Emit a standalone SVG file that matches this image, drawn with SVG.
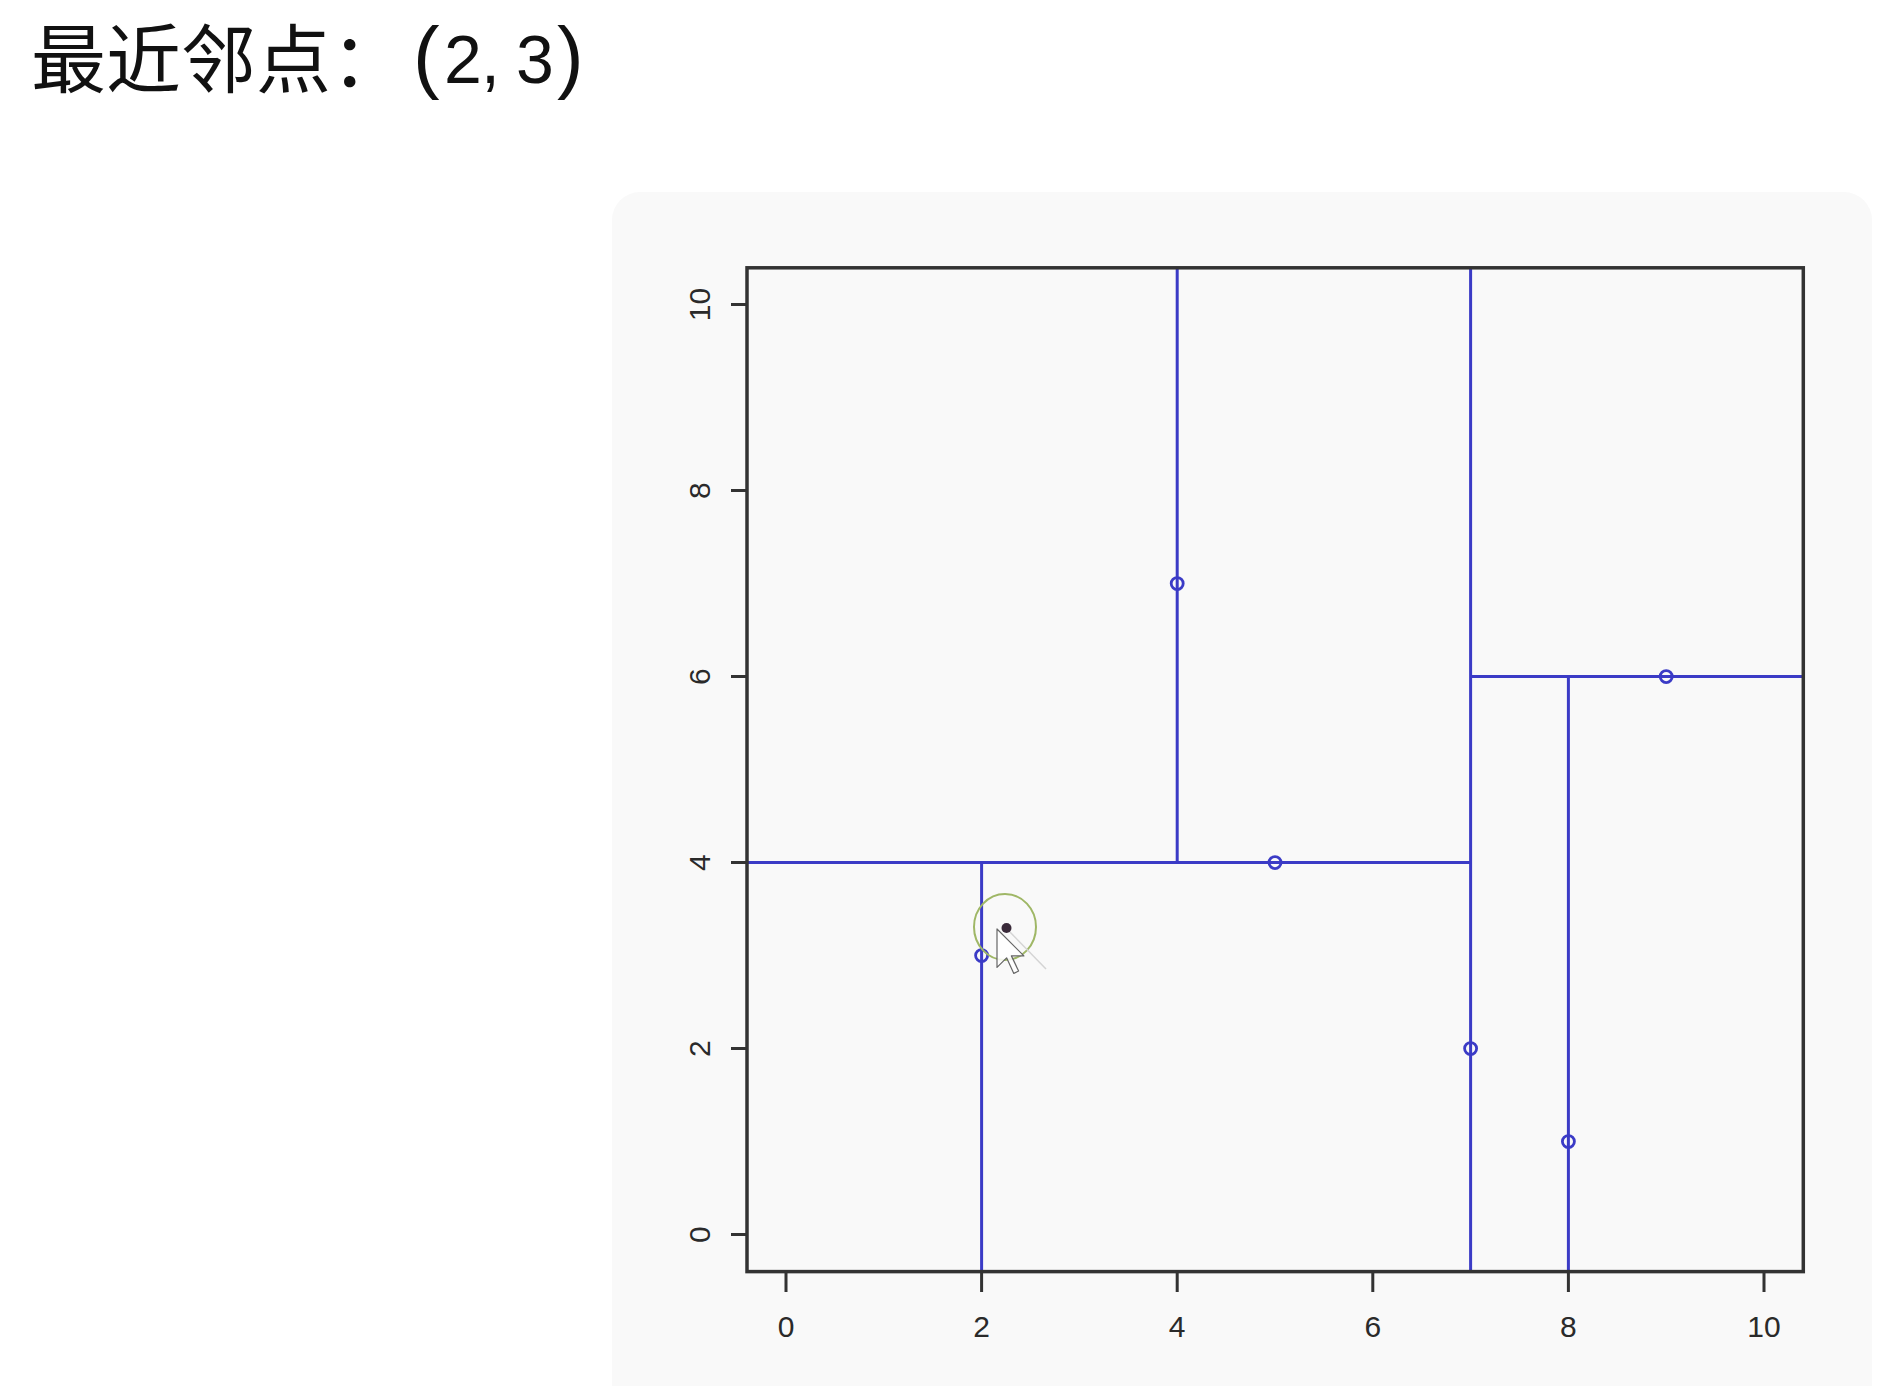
<svg xmlns="http://www.w3.org/2000/svg" width="1896" height="1386" viewBox="0 0 1896 1386">
<defs>
<style>
.zh{font-family:"Noto Sans CJK SC","Noto Sans",sans-serif;font-size:75px;fill:#111;}
.num{font-family:"Liberation Sans",Arial,sans-serif;fill:#111;}
.tick{stroke:#333;stroke-width:3;fill:none;}
.lab{font-family:"Liberation Sans",Arial,sans-serif;font-size:30px;fill:#2a2a2a;text-anchor:middle;}
.split{stroke:#3b3bc6;stroke-width:3;fill:none;}
.pt{stroke:#3b3bc6;stroke-width:2.8;fill:none;}
</style>
</defs>
<rect x="0" y="0" width="1896" height="1386" fill="#ffffff"/>
<rect id="panel" x="612" y="192" width="1260" height="1230" rx="28" fill="#f9f9f9"/>

<g id="title">
<text class="zh" x="31" y="87">最近邻点：</text>
<text class="num" y="83"><tspan x="413" font-size="80">(</tspan><tspan x="444" font-size="68">2</tspan><tspan x="481" font-size="68">,</tspan><tspan x="516" font-size="68">3</tspan><tspan x="557" font-size="80">)</tspan></text>
</g>

<g id="connectors">
<g id="splits">
<line class="split" x1="747" y1="862.6" x2="1470.6" y2="862.6"/>
<line class="split" x1="981.6" y1="862.6" x2="981.6" y2="1271.8"/>
<line class="split" x1="1177.2" y1="862.6" x2="1177.2" y2="267.4"/>
<line class="split" x1="1470.6" y1="267.4" x2="1470.6" y2="1271.8"/>
<line class="split" x1="1470.6" y1="676.6" x2="1803.1" y2="676.6"/>
<line class="split" x1="1568.4" y1="676.6" x2="1568.4" y2="1271.8"/>
</g>
</g>

<g id="frame">
<rect x="747" y="267.8" width="1056.3" height="1003.8" fill="none" stroke="#333" stroke-width="3.5"/>
</g>

<g id="y-axis">
<path class="tick" d="M731 1234.6H747M731 1048.6H747M731 862.6H747M731 676.6H747M731 490.6H747M731 304.6H747"/>
<text class="lab" x="710" y="1234.6" transform="rotate(-90 710 1234.6)">0</text>
<text class="lab" x="710" y="1048.6" transform="rotate(-90 710 1048.6)">2</text>
<text class="lab" x="710" y="862.6" transform="rotate(-90 710 862.6)">4</text>
<text class="lab" x="710" y="676.6" transform="rotate(-90 710 676.6)">6</text>
<text class="lab" x="710" y="490.6" transform="rotate(-90 710 490.6)">8</text>
<text class="lab" x="710" y="304.6" transform="rotate(-90 710 304.6)">10</text>
</g>

<g id="x-axis">
<path class="tick" d="M786 1271.8V1292M981.6 1271.8V1292M1177.2 1271.8V1292M1372.8 1271.8V1292M1568.4 1271.8V1292M1764 1271.8V1292"/>
<text class="lab" x="786" y="1337">0</text>
<text class="lab" x="981.6" y="1337">2</text>
<text class="lab" x="1177.2" y="1337">4</text>
<text class="lab" x="1372.8" y="1337">6</text>
<text class="lab" x="1568.4" y="1337">8</text>
<text class="lab" x="1764" y="1337">10</text>
</g>

<g id="points">
<g id="p-2-3"><circle class="pt" cx="981.6" cy="955.6" r="6"/></g>
<g id="p-4-7"><circle class="pt" cx="1177.2" cy="583.6" r="6"/></g>
<g id="p-5-4"><circle class="pt" cx="1275" cy="862.6" r="6"/></g>
<g id="p-7-2"><circle class="pt" cx="1470.6" cy="1048.6" r="6"/></g>
<g id="p-8-1"><circle class="pt" cx="1568.4" cy="1141.6" r="6"/></g>
<g id="p-9-6"><circle class="pt" cx="1666.2" cy="676.6" r="6"/></g>
</g>

<g id="query">
<ellipse cx="1005" cy="927" rx="31" ry="33" fill="none" stroke="#9fb766" stroke-width="2"/>
<line x1="1007" y1="929" x2="1046" y2="969" stroke="#d4d4d4" stroke-width="1.5"/>
<circle cx="1006.5" cy="928" r="5" fill="#3a2a3a"/>
<path d="M0 0L0 16L4 12L7 18.5L9 17.5L6 11.2L11.2 11.2Z" transform="translate(997 929) scale(2.4)" fill="#ffffff" fill-opacity="0.85" stroke="#666" stroke-width="0.5" stroke-linejoin="round"/>
</g>
</svg>
